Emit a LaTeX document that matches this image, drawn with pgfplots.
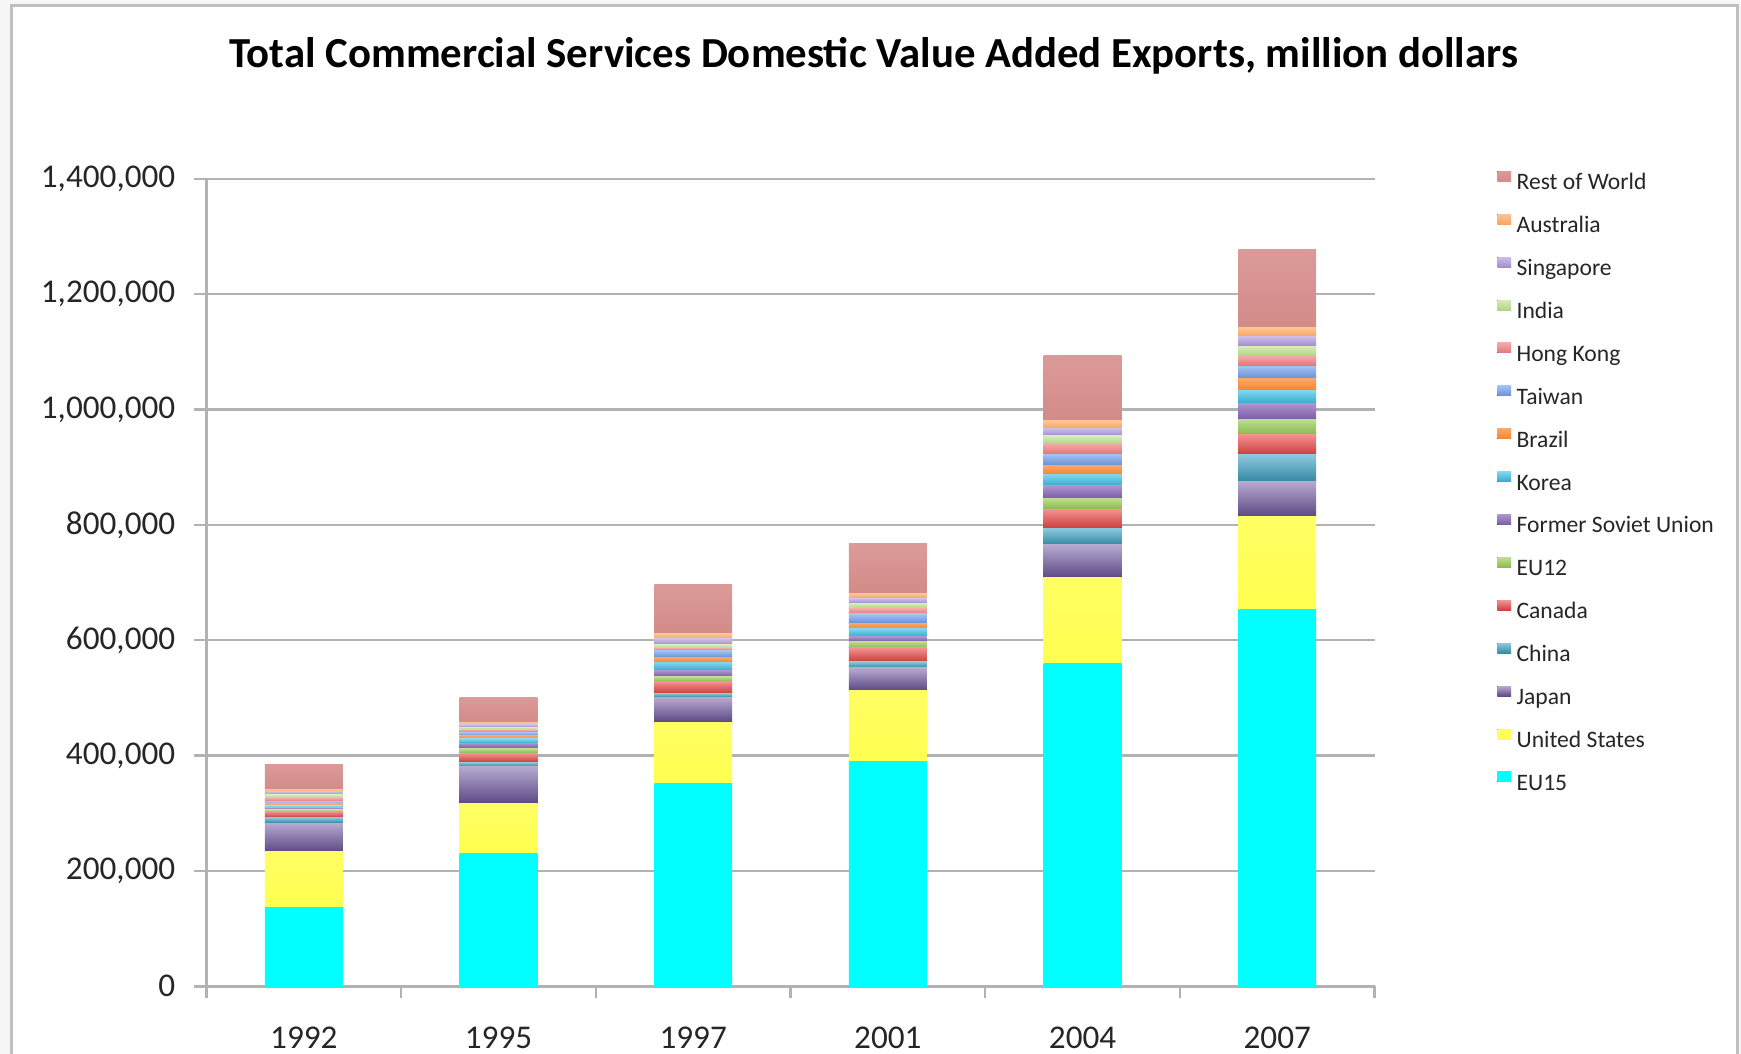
\documentclass[border=0pt]{standalone}
\usepackage{fontspec}
\setmainfont{Carlito}
\usepackage{pgfplots}
\usepackage{pgfplotstable}
\pgfplotsset{compat=1.18}

\definecolor{usT}{RGB}{255,255,100}
\definecolor{usB}{RGB}{255,255,80}
\definecolor{jpT}{RGB}{182,170,208}
\definecolor{jpB}{RGB}{92,72,132}
\definecolor{cnT}{RGB}{140,200,220}
\definecolor{cnB}{RGB}{52,136,164}
\definecolor{caT}{RGB}{244,146,146}
\definecolor{caB}{RGB}{200,62,60}
\definecolor{etT}{RGB}{190,222,146}
\definecolor{etB}{RGB}{138,185,76}
\definecolor{fsT}{RGB}{172,148,206}
\definecolor{fsB}{RGB}{122,92,166}
\definecolor{krT}{RGB}{130,214,238}
\definecolor{krB}{RGB}{52,170,206}
\definecolor{brT}{RGB}{252,166,104}
\definecolor{brB}{RGB}{244,134,46}
\definecolor{twT}{RGB}{164,194,240}
\definecolor{twB}{RGB}{104,144,214}
\definecolor{hkT}{RGB}{246,168,168}
\definecolor{hkB}{RGB}{222,118,118}
\definecolor{inT}{RGB}{214,236,184}
\definecolor{inB}{RGB}{176,212,130}
\definecolor{sgT}{RGB}{204,190,230}
\definecolor{sgB}{RGB}{160,140,204}
\definecolor{auT}{RGB}{252,196,146}
\definecolor{auB}{RGB}{248,164,98}
\definecolor{rwT}{RGB}{219,154,152}
\definecolor{rwB}{RGB}{210,139,137}

% one row per year (group), one column per series
\pgfplotstableread{
x EU15 US Japan China Canada EU12 FSU Korea Brazil Taiwan HK India Singapore Australia RoW
0 137000 96000 50000 10000 10000 3500 3000 3500 3500 4000 5900 5700 5700 4100 42800
1 231000 85500 64600 7400 15600 8700 8600 7600 5700 5700 4200 4500 4700 3900 42300
2 352200 105700 43300 6900 20800 8100 10400 14400 8600 11600 4700 5700 9900 8600 85400
3 390600 122200 39300 10900 23700 11400 8200 14300 8700 16200 9700 8700 8600 8700 86600
4 559700 148200 57600 28900 32900 19000 21300 20200 15600 19100 18300 13300 13400 12600 114200
5 654000 160000 61100 46200 35800 26000 27000 23100 20800 21300 17300 17300 16800 14900 135700
}\data

\pgfplotsset{
  bl/.style 2 args={draw=none, top color=#1, bottom color=#2,
    legend image code/.code={\fill[top color=#1,bottom color=#2] (0pt,1.6pt) rectangle (6.8pt,6.6pt); \path (9.6pt,0pt);}},
  common/.style={
    at={(103.25pt,-493.15pt)}, anchor=south west,
    scale only axis, width=584.05pt, height=403.75pt,
    ybar stacked, bar width=0.4,
    xmin=-0.5, xmax=5.5, ymin=0, ymax=1400000,
  },
}

\newcommand{\allbars}{%
\addplot[bl={cyan}{cyan}] table[x=x,y=EU15]{\data};
\addplot[bl={usT}{usB}] table[x=x,y=US]{\data};
\addplot[bl={jpT}{jpB}] table[x=x,y=Japan]{\data};
\addplot[bl={cnT}{cnB}] table[x=x,y=China]{\data};
\addplot[bl={caT}{caB}] table[x=x,y=Canada]{\data};
\addplot[bl={etT}{etB}] table[x=x,y=EU12]{\data};
\addplot[bl={fsT}{fsB}] table[x=x,y=FSU]{\data};
\addplot[bl={krT}{krB}] table[x=x,y=Korea]{\data};
\addplot[bl={brT}{brB}] table[x=x,y=Brazil]{\data};
\addplot[bl={twT}{twB}] table[x=x,y=Taiwan]{\data};
\addplot[bl={hkT}{hkB}] table[x=x,y=HK]{\data};
\addplot[bl={inT}{inB}] table[x=x,y=India]{\data};
\addplot[bl={sgT}{sgB}] table[x=x,y=Singapore]{\data};
\addplot[bl={auT}{auB}] table[x=x,y=Australia]{\data};
\addplot[bl={rwT}{rwB}] table[x=x,y=RoW]{\data};
}

\begin{document}
\begin{tikzpicture}
\fill[gray!7] (0pt,0pt) rectangle (870.5pt,-527pt);
\fill[white] (5.5pt,-3pt) rectangle (868.5pt,-530pt);
\draw[gray!50, line width=1.5pt] (5.5pt,-535pt) -- (5.5pt,-3pt) -- (868.5pt,-3pt) -- (868.5pt,-535pt);
\node[font=\bfseries\fontsize{21.4}{25}\selectfont, anchor=center] at (436.9pt,-27.75pt)
  {Total Commercial Services Domestic Value Added Exports, million dollars};
\begin{axis}[
  common,
  restrict x to domain=-0.2:0.2,
  axis x line*=bottom, axis y line*=left,
  axis line style={draw=gray!60, line width=1.2pt},
  tick style={draw=gray!60, line width=1.2pt},
  tick align=outside,
  major tick length=6pt,
  xtick={-0.5,0.5,...,5.5}, xticklabels={},
  extra x ticks={0,1,2,3,4,5},
  extra x tick labels={1992,1995,1997,2001,2004,2007},
  extra x tick style={major tick length=0pt, grid=none},
  xticklabel style={yshift=-16.6pt},
  ytick={0,200000,...,1400000},
  ymajorgrids, grid style={draw=gray!60, line width=1.2pt},
  scaled y ticks=false,
  yticklabel style={xshift=-6.1pt, /pgf/number format/fixed, /pgf/number format/1000 sep={,}, /pgf/number format/assume math mode=true},
  ticklabel style={font=\fontsize{16.6}{19}\selectfont, text=black!85},
  legend style={at={(1.1048,1.0097)}, anchor=north west, draw=none, fill=none,
    inner sep=0pt, row sep=9.85pt,
    nodes={inner sep=0pt, text height=7.6pt, text depth=2.4pt, font=\fontsize{11.8}{14}\selectfont, text=black!85}},
  legend cell align=left,
  reverse legend,
]
\allbars
\legend{EU15,United States,Japan,China,Canada,EU12,Former Soviet Union,Korea,Brazil,Taiwan,Hong Kong,India,Singapore,Australia,Rest of World}
\end{axis}
\begin{axis}[common, hide axis, restrict x to domain=0.8:1.2]\allbars\end{axis}
\begin{axis}[common, hide axis, restrict x to domain=1.8:2.2]\allbars\end{axis}
\begin{axis}[common, hide axis, restrict x to domain=2.8:3.2]\allbars\end{axis}
\begin{axis}[common, hide axis, restrict x to domain=3.8:4.2]\allbars\end{axis}
\begin{axis}[common, hide axis, restrict x to domain=4.8:5.2]\allbars\end{axis}
\pgfresetboundingbox
\useasboundingbox (0pt,0pt) rectangle (870.5pt,-527pt);
\end{tikzpicture}
\end{document}
